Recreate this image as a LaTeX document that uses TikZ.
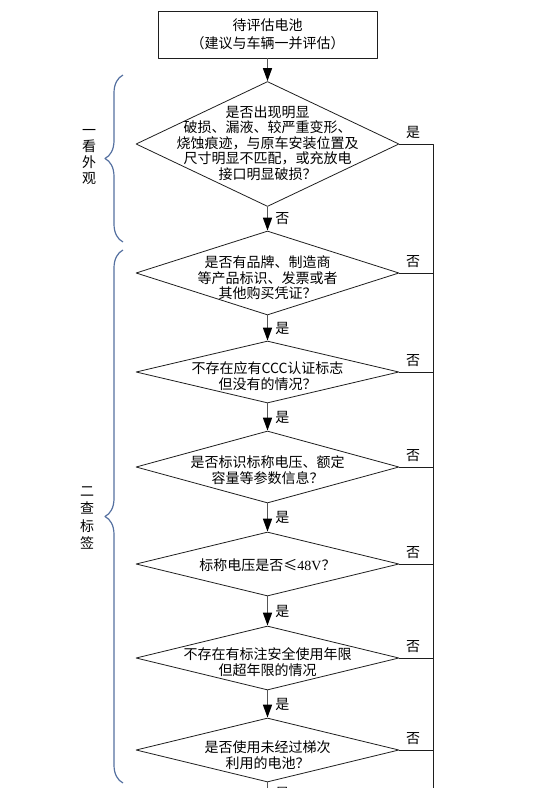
\documentclass[tikz,border=0pt]{standalone}
\usepackage{fontspec}
\setmainfont{Noto Sans CJK SC}
\newfontfamily\latinserif{Liberation Serif}
\usetikzlibrary{arrows.meta,shapes.geometric,decorations.pathreplacing}
\definecolor{bracegray}{RGB}{84,112,160}
\definecolor{lineink}{RGB}{30,30,30}
\definecolor{shaftgray}{RGB}{85,85,85}

\begin{document}
\begin{tikzpicture}[x=1pt,y=-1pt,line join=round,
  dia/.style={draw=lineink,shape=diamond,inner sep=0pt,minimum width=263pt,line width=0.8pt},
  txt/.style={font=\fontsize{14}{15.5}\selectfont,align=center,inner sep=0pt},
  flow/.style={draw=shaftgray,line width=1.6pt,-{Triangle[length=13pt,width=9pt,color=black]}},
  side/.style={draw=lineink,line width=0.8pt},
  lab/.style={font=\fontsize{14}{14}\selectfont,inner sep=0pt},
  curly/.style={draw=bracegray,line width=1.2pt,decorate,decoration={brace,amplitude=18pt}}]
  \useasboundingbox (0,0) rectangle (540,788);
  \clip (0,0) rectangle (540,788);
  \node[draw=lineink,line width=0.8pt,minimum width=219pt,minimum height=47pt,txt,
    font=\fontsize{14}{18}\selectfont] (start) at (267.5,34.5) {待评估电池\\（建议与车辆一并评估）};
  \foreach \n/\y/\h in {1/144/125,2/273/84,3/372/62,4/467/72,5/564/64,6/658/64,7/750/64}
    \node[dia,minimum height=\h pt] (d\n) at (267.5,\y) {};
  \node[txt] at ([yshift=1pt]d1) {是否出现明显\\破损、漏液、较严重变形、\\烧蚀痕迹，与原车安装位置及\\尺寸明显不匹配，或充放电\\接口明显破损？};
  \node[txt] at ([yshift=-5pt]d2) {是否有品牌、制造商\\等产品标识、发票或者\\其他购买凭证？};
  \node[txt] at ([yshift=-4pt]d3) {不存在应有CCC认证标志\\但没有的情况？};
  \node[txt] at ([yshift=-3pt]d4) {是否标识标称电压、额定\\容量等参数信息？};
  \node[txt] at ([yshift=-1pt]d5) {标称电压是否≤{\latinserif 48V}？};
  \node[txt] at ([yshift=-4pt]d6) {不存在有标注安全使用年限\\但超年限的情况};
  \node[txt] at ([yshift=-5pt]d7) {是否使用未经过梯次\\利用的电池？};
  \coordinate (railend) at (433,800);
  \coordinate (flowend) at (267.5,804);
  \draw[flow] (start) -- (d1);
  \foreach \a/\b/\t in {1/2/否,2/3/是,3/4/是,4/5/是,5/6/是,6/7/是}
    \draw[flow] (d\a) -- node[lab,midway,right=7pt] {\t} (d\b);
  \draw[flow] (d7) -- node[lab,midway,right=7pt] {是} (flowend);
  \draw[side] (d1.east) -- node[lab,pos=.41,above=5pt] {是} (d1.east -| railend) -- (railend);
  \foreach \n in {2,...,7}
    \draw[side] (d\n.east) -- node[lab,pos=.41,above=5pt] {否} (d\n.east -| railend);
  \node[txt,font=\fontsize{14}{16}\selectfont] (look) at (89,157) {一\\看\\外\\观};
  \node[txt,font=\fontsize{14}{17.5}\selectfont] (check) at (87,518) {二\\查\\标\\签};
  \draw[curly] (123,242) -- (123,75);
  \draw[curly] (123,783) -- (123,250);
\end{tikzpicture}
\end{document}
